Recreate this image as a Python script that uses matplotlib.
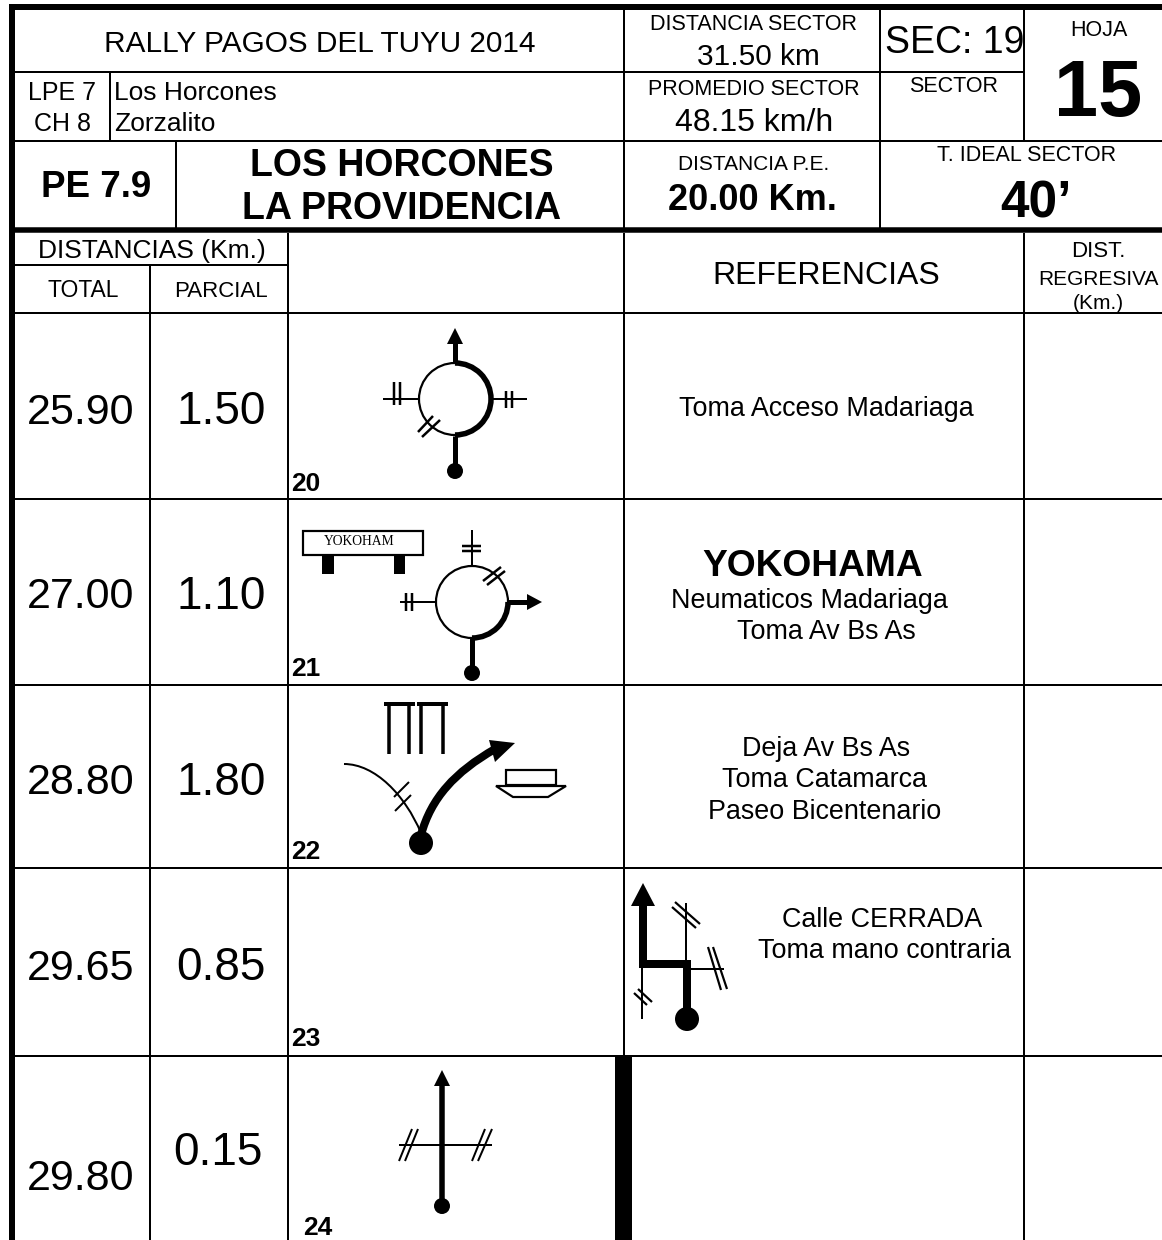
import numpy as np
import matplotlib.pyplot as plt
from matplotlib.patches import Circle, Polygon, Rectangle, Arc, PathPatch
from matplotlib.path import Path

plt.rcParams['font.family'] = ['Liberation Sans', 'DejaVu Sans']

# table contents
totals = ['25.90', '27.00', '28.80', '29.65', '29.80']
partials = ['1.50', '1.10', '1.80', '0.85', '0.15']
numbers = ['20', '21', '22', '23', '24']
references = [
    ['Toma Acceso Madariaga'],
    ['Neumaticos Madariaga', 'Toma Av Bs As'],
    ['Deja Av Bs As', 'Toma Catamarca', 'Paseo Bicentenario'],
    ['Calle CERRADA', 'Toma mano contraria'],
]
rally = 'RALLY PAGOS DEL TUYU 2014'
stage = 'PE 7.9'
stage_names = ['LOS HORCONES', 'LA PROVIDENCIA']
liaison = ['LPE 7', 'CH 8']
liaison_places = ['Los Horcones', 'Zorzalito']
dist_sector = '31.50 km'
avg_sector = '48.15 km/h'
sector = 'SEC: 19'
sheet = '15'
dist_stage = '20.00 Km.'
ideal_time = '40\u2019'


def px(v):
    return v * 0.72


def line(x, y, w=2, cap='butt'):
    ax.plot(x, y, color='black', lw=px(w), solid_capstyle=cap, solid_joinstyle='miter')


def label(x, y, s, size, ha='center', weight='normal', family=None):
    kw = {'family': family} if family else {}
    ax.text(x, y, s, fontsize=size, ha=ha, va='baseline', fontweight=weight, color='black', **kw)


def dot(x, y, r):
    ax.add_patch(Circle((x, y), r, color='black', lw=0))


def head(tip, left, right):
    ax.add_patch(Polygon([tip, left, right], closed=True, color='black', lw=0))


def roundabout(x, y, thick):
    # thin ring plus the heavier arc that is actually driven
    ax.add_patch(Circle((x, y), 36, fill=False, ec='black', lw=px(2.2)))
    ax.add_patch(Arc((x, y), 72, 72, theta1=thick[0], theta2=thick[1], ec='black', lw=px(5.5)))


fig = plt.figure(figsize=(11.62, 12.4), dpi=100)
ax = fig.add_axes([0, 0, 1, 1])
ax.set_xlim(0, 1162)
ax.set_ylim(1240, 0)
ax.axis('off')

# heavy frame lines
line([9, 1162], [7, 7], 6)
line([12, 1162], [230, 230], 5.5)
line([12, 12], [4, 1240], 6)

# header grid
line([13, 1024], [71.5, 71.5], 2)
line([13, 1162], [141, 141], 2)
line([110, 110], [72, 141], 2)
line([176, 176], [141, 228], 2)
line([624, 624], [10, 228], 2)
line([880, 880], [10, 228], 2)
line([1024, 1024], [10, 141], 2)

# column header and rows
line([13, 288], [265, 265], 2)
line([13, 1162], [313, 313], 2)
for yy in [499, 685, 868, 1056]:
    line([13, 1162], [yy, yy], 2)
line([150, 150], [265, 1240], 2)
line([288, 288], [233, 1240], 2)
line([624, 624], [233, 1056], 2)
line([1024, 1024], [233, 1240], 2)
ax.add_patch(Rectangle((615, 1056), 17, 184, color='black', lw=0))

# header texts
label(320, 52, rally, 21.4)
label(62, 100, liaison[0], 18)
label(62, 131, liaison[1], 18)
label(114, 100, liaison_places[0], 19, ha='left')
label(114, 131, liaison_places[1], 19, ha='left')
label(96, 197, stage, 26.5, weight='bold')
label(402, 176, stage_names[0], 27, weight='bold')
label(402, 219, stage_names[1], 27, weight='bold')
label(754, 30, 'DISTANCIA SECTOR', 15.5)
label(758, 65, dist_sector, 21.5)
label(754, 95, 'PROMEDIO SECTOR', 15.5)
label(754, 131, avg_sector, 23)
label(955, 53, sector, 27)
label(954, 92, 'SECTOR', 15.5)
label(1099, 36, 'HOJA', 15.5)
label(1098, 116, sheet, 57, weight='bold')
label(754, 170, 'DISTANCIA P.E.', 15)
label(752, 210, dist_stage, 26, weight='bold')
label(1027, 161, 'T. IDEAL SECTOR', 15.5)
label(1036, 217, ideal_time, 37, weight='bold')
label(152, 258, 'DISTANCIAS (Km.)', 19)
label(83, 297, 'TOTAL', 16.5)
label(221, 297, 'PARCIAL', 16)
label(826, 284, 'REFERENCIAS', 23)
label(1098, 257, 'DIST.', 16)
label(1098, 285, 'REGRESIVA', 15)
label(1098, 309, '(Km.)', 15)

# distances per row
total_pos = [(81, 424), (81, 608), (81, 794), (81, 980), (81, 1190)]
partial_pos = [(221, 424), (221, 609), (221, 795), (221, 980), (218, 1165)]
number_pos = [(291, 491), (291, 676), (291, 859), (291, 1046), (303, 1235)]
for i in range(5):
    label(total_pos[i][0], total_pos[i][1], totals[i], 31)
    label(partial_pos[i][0], partial_pos[i][1], partials[i], 33)
    label(number_pos[i][0], number_pos[i][1], numbers[i], 19, ha='left', weight='bold')

# references
label(826, 416, references[0][0], 19.4)
label(813, 576, 'YOKOHAMA', 26.7, weight='bold')
label(809, 608, references[1][0], 19.4)
label(826, 639, references[1][1], 19.4)
label(826, 756, references[2][0], 19.4)
label(825, 787, references[2][1], 19.4)
label(825, 819, references[2][2], 19.4)
label(882, 927, references[3][0], 19.4)
label(885, 958, references[3][1], 19.4)

# sketch 20: roundabout, straight on
roundabout(455, 399, (-90, 90))
line([455, 455], [436, 471], 5)
dot(455, 471, 8)
line([455, 455], [363, 343], 5)
head((455, 328), (447, 344), (463, 344))
line([383, 419], [399, 399])
line([394, 394], [382, 405], 2.5)
line([400, 400], [382, 405], 2.5)
line([491, 527], [399, 399])
line([506, 506], [391, 408], 2.5)
line([512, 512], [391, 408], 2.5)
line([418, 433], [432, 416], 2.5)
line([422, 440], [437, 420], 2.5)

# sketch 21: sign and roundabout, turn right
ax.add_patch(Rectangle((303, 531), 120, 24, fill=False, ec='black', lw=px(2.2)))
label(359, 545, 'YOKOHAM', 9.8, family='Liberation Serif')
ax.add_patch(Rectangle((322, 555), 12, 19, color='black', lw=0))
ax.add_patch(Rectangle((394, 555), 11, 19, color='black', lw=0))
roundabout(472, 602, (0, 90))
line([472, 472], [638, 673], 5)
dot(472, 673, 8)
line([508, 528], [602, 602], 5)
head((542, 602), (527, 594), (527, 610))
line([472, 472], [530, 566])
line([462, 481], [546, 546], 2.5)
line([462, 481], [551, 551], 2.5)
line([400, 436], [602, 602])
line([406, 406], [593, 611], 2.5)
line([412, 412], [593, 611], 2.5)
line([483, 501], [581, 567], 2.5)
line([487, 505], [585, 571], 2.5)

# sketch 22: fork to the right, columns and building
thin = Path([(344, 764), (375, 764), (405, 795), (421, 833)],
            [Path.MOVETO, Path.CURVE4, Path.CURVE4, Path.CURVE4])
ax.add_patch(PathPatch(thin, fill=False, ec='black', lw=px(2)))
line([394, 409], [797, 782], 2)
line([395, 411], [811, 795], 2)
thick = Path([(421, 835), (431, 798), (455, 772), (495, 749)],
             [Path.MOVETO, Path.CURVE4, Path.CURVE4, Path.CURVE4])
ax.add_patch(PathPatch(thick, fill=False, ec='black', lw=px(8), capstyle='butt'))
head((515, 743), (489, 740), (495, 762))
dot(421, 843, 12)
line([384, 415], [704, 704], 4)
line([417, 448], [704, 704], 4)
for xx in [389, 409, 421, 443]:
    line([xx, xx], [704, 754], 3.5)
ax.add_patch(Rectangle((506, 770), 50, 15, fill=False, ec='black', lw=px(2.2)))
ax.add_patch(Polygon([(496, 786), (566, 786), (548, 797), (513, 797)], closed=True,
                     fill=False, ec='black', lw=px(2.2)))

# sketch 23: two turns on the reference column
line([686, 686], [903, 964], 2)
line([687, 724], [969, 969], 2)
line([708, 721], [947, 990], 2.2)
line([713, 727], [947, 989], 2.2)
line([672, 696], [907, 928], 2.2)
line([675, 700], [902, 924], 2.2)
line([642, 642], [964, 1019], 2)
line([634, 647], [993, 1005], 2.2)
line([638, 652], [989, 1002], 2.2)
line([687, 687, 643, 643], [1019, 964, 964, 904], 8)
head((643, 883), (631, 906), (655, 906))
dot(687, 1019, 12)

# sketch 24: straight across crossing
line([399, 492], [1145, 1145], 2)
line([442, 442], [1206, 1085], 5.5)
head((442, 1070), (434, 1086), (450, 1086))
dot(442, 1206, 8)
line([399, 412], [1161, 1129], 2)
line([405, 418], [1161, 1129], 2)
line([472, 485], [1161, 1129], 2)
line([478, 492], [1161, 1129], 2)

plt.savefig('out.png', dpi=100)
